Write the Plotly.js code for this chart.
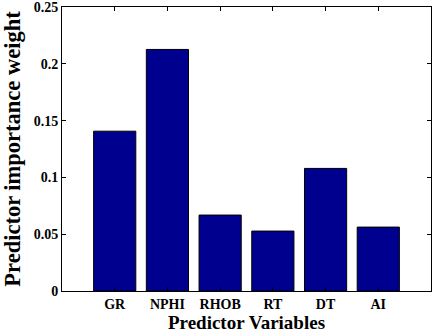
<!DOCTYPE html>
<html>
<head>
<meta charset="utf-8">
<script src="https://cdn.plot.ly/plotly-3.0.1.min.js"></script>
<style>
  html, body { margin: 0; padding: 0; background: #fff; }
  #chart { width: 434px; height: 334px; }
</style>
</head>
<body>
<div id="chart"></div>
<script>
  // predictors and their importance weights
  var predictors = ["GR", "NPHI", "RHOB", "RT", "DT", "AI"];
  var weights = [0.1408, 0.2128, 0.0669, 0.0528, 0.1080, 0.0563];
  var positions = [1, 2, 3, 4, 5, 6];
  var yTicks = [0, 0.05, 0.1, 0.15, 0.2, 0.25];
  var yTickText = ["0", "0.05", "0.1", "0.15", "0.2", "0.25"];

  var fontFam = "Liberation Serif";

  var data = [{
    type: "bar",
    x: positions,
    y: weights,
    width: 0.8,
    marker: {
      color: "rgb(0,0,143)",
      line: { color: "black", width: 1 }
    },
    hoverinfo: "none"
  }];

  var layout = {
    width: 434,
    height: 334,
    margin: { l: 62, r: 3, t: 7, b: 43 },
    paper_bgcolor: "white",
    plot_bgcolor: "white",
    showlegend: false,
    font: { family: fontFam, color: "black", weight: "bold" },
    xaxis: {
      range: [0, 7],
      tickvals: positions,
      ticktext: predictors,
      ticks: "inside",
      ticklen: 4,
      tickcolor: "black",
      showline: true,
      linecolor: "black",
      linewidth: 1,
      mirror: "allticks",
      showgrid: false,
      zeroline: false,
      tickfont: { size: 14 },
      title: { text: "Predictor Variables", font: { size: 19 }, standoff: 3 }
    },
    yaxis: {
      range: [0, 0.2502],
      tickvals: yTicks,
      ticktext: yTickText,
      ticks: "inside",
      ticklen: 4,
      tickcolor: "black",
      showline: true,
      linecolor: "black",
      linewidth: 1,
      mirror: "allticks",
      showgrid: false,
      zeroline: false,
      tickfont: { size: 14 },
      title: { text: "Predictor importance weight", font: { size: 22.5 }, standoff: 9 }
    }
  };

  Plotly.newPlot("chart", data, layout, { displayModeBar: false, staticPlot: true });
</script>
</body>
</html>
